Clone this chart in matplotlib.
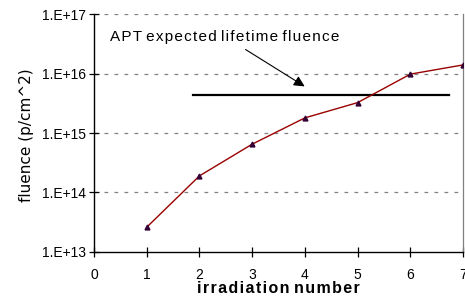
import matplotlib
matplotlib.use("Agg")
import matplotlib.pyplot as plt
from matplotlib.ticker import FixedLocator, NullLocator

# irradiation steps and accumulated fluence (p/cm^2)
irradiation = [1, 2, 3, 4, 5, 6, 7]
fluence = [2.6e13, 1.9e14, 6.5e14, 1.8e15, 3.25e15, 9.8e15, 1.4e16]

# APT expected lifetime fluence level
apt_x = [1.88, 6.74]
apt_level = 4.4e15

y_ticks = [1e13, 1e14, 1e15, 1e16, 1e17]
y_labels = ["1.E+13", "1.E+14", "1.E+15", "1.E+16", "1.E+17"]
x_ticks = [0, 1, 2, 3, 4, 5, 6, 7]


def spaced(s):
    # letter spacing with hair spaces, wider gap between words
    return " ".join("\u200a".join(w) for w in s.split(" "))


plt.rcParams["font.family"] = ["Liberation Sans", "DejaVu Sans"]

fig = plt.figure(figsize=(4.65, 3.01), dpi=100)
ax = fig.add_axes([0.202, 0.163, 0.794, 0.790])

ax.set_yscale("log")
ax.set_ylim(1e13, 1e17)
ax.set_xlim(0, 7)

# dashed grid at decades
for v in y_ticks[1:]:
    ax.axhline(v, color="#808080", lw=0.9, ls=(0, (3, 5)), zorder=1)

ax.plot(irradiation, fluence, color="#990000", lw=1.0, zorder=3)
ax.plot(irradiation, fluence, ls="none", marker="^", ms=3.5,
        mfc="#330033", mec="#330033", zorder=4)

ax.plot(apt_x, [apt_level, apt_level], color="black", lw=1.6, zorder=2)

ax.annotate("", xy=(4.04, 10**15.76), xytext=(2.83, 10**16.43),
            arrowprops=dict(arrowstyle="-|>", color="black", lw=0.8,
                            mutation_scale=16), zorder=5)
ax.text(0.3, 10**16.61, spaced("APT expected lifetime fluence"),
        fontsize=11, ha="left", va="center")

ax.yaxis.set_major_locator(FixedLocator(y_ticks))
ax.yaxis.set_minor_locator(NullLocator())
ax.set_yticklabels(y_labels)
ax.set_xticks(x_ticks)
ax.tick_params(axis="both", direction="inout", length=7, width=0.9,
               labelsize=10, colors="black")
ax.tick_params(axis="x", pad=8)
ax.tick_params(axis="y", pad=2)

for s in ["left", "bottom"]:
    ax.spines[s].set_color("black")
    ax.spines[s].set_linewidth(1.0)
ax.spines["top"].set_visible(False)
ax.spines["right"].set_color("#808080")
ax.spines["right"].set_linewidth(0.9)

ax.set_xlabel(spaced("irradiation number"),
              fontsize=11.5, fontweight="bold", labelpad=-1)
ax.set_ylabel("fluence (p/cm^2)", fontsize=11, family=["DejaVu Sans"])
ax.yaxis.set_label_coords(-0.163, 0.49)

fig.savefig("out.png", dpi=100)
